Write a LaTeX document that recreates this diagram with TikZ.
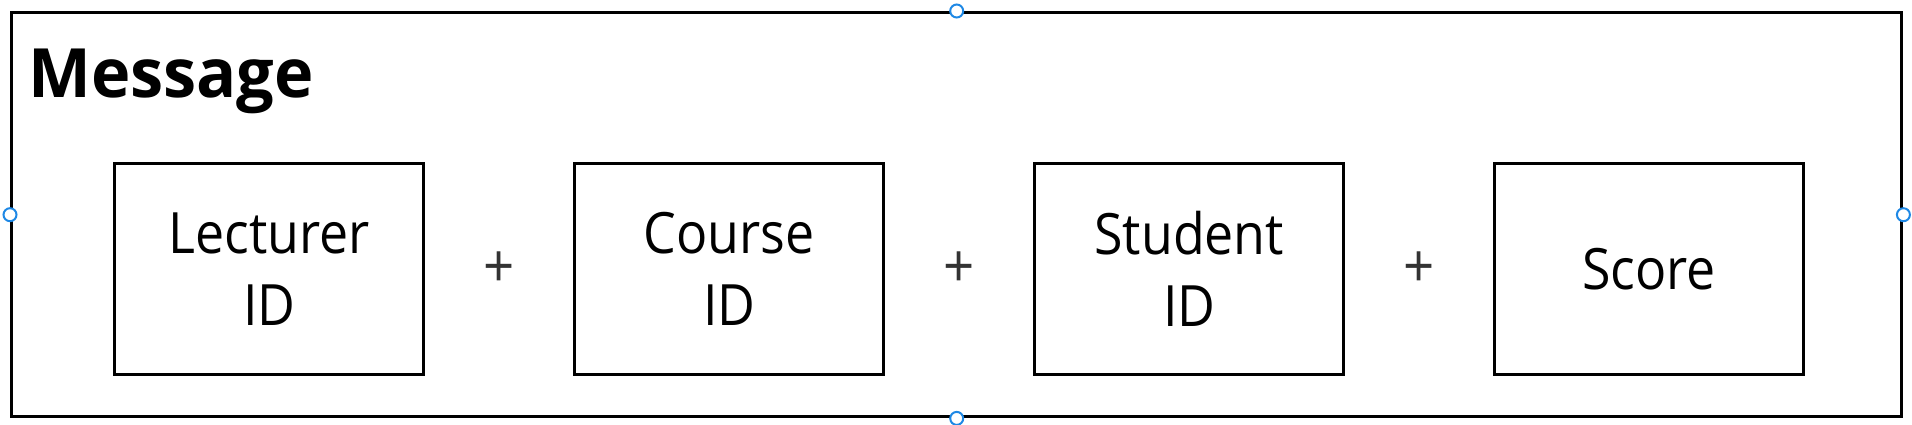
\documentclass[tikz,border=0pt]{standalone}
\usepackage{fontspec}
\usetikzlibrary{calc}
\setmainfont{Open Sans}[FakeStretch=0.91]
\newfontfamily\titlefont{Open Sans}[FakeStretch=0.98]
\definecolor{plusgray}{HTML}{333333}
\definecolor{handleblue}{HTML}{1E88E5}
\begin{document}
\begin{tikzpicture}[x=1pt,y=-1pt,
  frame/.style={draw, line width=3.4pt, minimum width=1890pt, minimum height=404pt, inner sep=0pt, anchor=north west},
  fieldbox/.style={draw, line width=3.4pt, minimum width=309pt, minimum height=211pt, inner sep=0pt, align=center, anchor=north west, font=\fontsize{57}{72}\selectfont},
  plussign/.style={text=plusgray, inner sep=0pt, font=\fontsize{60}{60}\selectfont},
  handle/.style={circle, draw=handleblue, fill=white, line width=2pt, minimum size=13pt, inner sep=0pt}]
\useasboundingbox (0,0) rectangle (1912,424);
\node[frame] (msg) at (10,11) {};
\node[anchor=base west, inner sep=0pt, font=\titlefont\bfseries\fontsize{68}{68}\selectfont] (title) at (28,97) {Message};
\node[fieldbox] (lect) at (113,162) {Lecturer\\ID};
\node[fieldbox] (course) at (573,162) {Course\\ID};
\node[fieldbox] (student) at (1033,162) {Student\\ID};
\node[fieldbox] (score) at (1493,162) {Score};
\node[plussign] (p1) at ($(lect.east)!0.5!(course.west)$) {+};
\node[plussign] (p2) at ($(course.east)!0.5!(student.west)$) {+};
\node[plussign] (p3) at ($(student.east)!0.5!(score.west)$) {+};
\node[handle] (hn) at (msg.north) {};
\node[handle] (hs) at (msg.south) {};
\node[handle] (hw) at (msg.west) {};
\node[handle] (he) at (msg.east) {};
\end{tikzpicture}
\end{document}
